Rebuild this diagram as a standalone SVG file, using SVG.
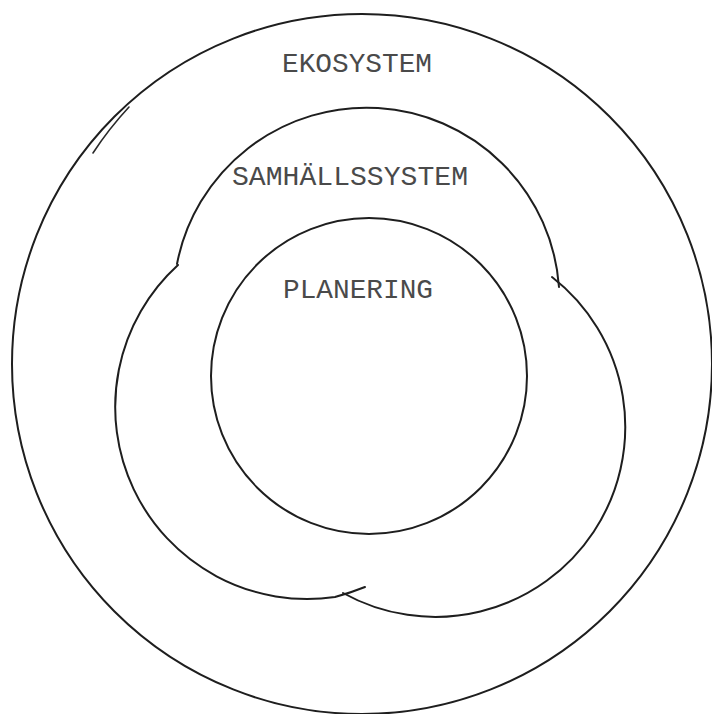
<svg xmlns="http://www.w3.org/2000/svg" width="712" height="714" viewBox="0 0 712 714">
  <style>
    .line { fill: none; stroke: #1e1e1e; stroke-width: 2; stroke-linecap: round; stroke-linejoin: round; }
    .thin { fill: none; stroke: #2a2a2a; stroke-width: 1.6; stroke-linecap: round; }
    .label { font-family: "Liberation Mono", "Courier New", monospace; font-size: 28px; fill: #4a4a4a; }
  </style>
  <rect x="0" y="0" width="712" height="714" fill="#ffffff"/>

  <g id="ekosystem">
    <circle class="line" cx="362" cy="364" r="350"/>
    <path class="thin" d="M 93 153 A 343 343 0 0 1 129 107"/>
    <text class="label" x="282" y="72" textLength="150" lengthAdjust="spacingAndGlyphs">EKOSYSTEM</text>
  </g>

  <g id="samhallssystem">
    <path class="line" d="M 177 264 A 193 193 0 0 1 559 287"/>
    <path class="line" d="M 178 265 A 192 192 0 0 0 335 597 Q 350 593 365 587"/>
    <path class="line" d="M 552 277 A 190 190 0 0 1 343 593"/>
    <text class="label" x="232" y="185" textLength="236" lengthAdjust="spacingAndGlyphs">SAMHÄLLSSYSTEM</text>
  </g>

  <g id="planering">
    <circle class="line" cx="369" cy="376" r="158"/>
    <text class="label" x="283" y="298" textLength="150" lengthAdjust="spacingAndGlyphs">PLANERING</text>
  </g>
</svg>
